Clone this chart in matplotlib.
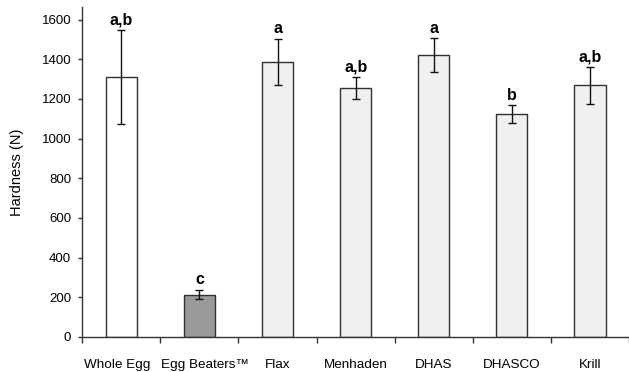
import matplotlib
matplotlib.use("Agg")
import matplotlib.pyplot as plt
import matplotlib.transforms as mtransforms
import numpy as np

# ----- data -----
categories = ["Whole Egg", "Egg Beaters\u2122", "Flax", "Menhaden", "DHAS", "DHASCO", "Krill"]
hardness = [1310, 213, 1385, 1255, 1420, 1123, 1268]
errors = [238, 23, 117, 54, 85, 44, 93]
letters = ["a,b", "c", "a", "a,b", "a", "b", "a,b"]
bar_colors = ["#ffffff", "#9a9a9c", "#f0f0f0", "#f0f0f0", "#f0f0f0", "#f0f0f0", "#f0f0f0"]

plt.rcParams["font.family"] = ["Liberation Sans", "DejaVu Sans"]

fig = plt.figure(figsize=(6.29, 3.72), dpi=100)
ax = fig.add_axes([0.1308, 0.0941, 0.8692, 0.887])

x = np.arange(len(categories))
ax.bar(x, hardness, width=0.4, color=bar_colors, edgecolor="#303030", linewidth=1.0, zorder=2)
ax.errorbar(x, hardness, yerr=errors, fmt="none", ecolor="#111111", elinewidth=1.0,
            capsize=3, capthick=1.0, zorder=3)

for xi, h, e, lab in zip(x, hardness, errors, letters):
    ax.annotate(lab, (xi, h + e), xytext=(0, 2), textcoords="offset points",
                ha="center", va="bottom", fontsize=11.5, fontweight="bold")

# axis settings
ax.set_xlim(-0.5, 6.44)
ax.set_ylim(0, 1663)
ax.set_yticks(np.arange(0, 1601, 200))
ax.tick_params(axis="y", direction="out", length=3, width=1, pad=5, labelsize=9.5, color="#333333")

ax.set_xticks(np.arange(-0.5, len(categories), 1.0))
ax.set_xticklabels([])
ax.set_xticks(x, minor=True)
ax.set_xticklabels(categories, minor=True)
ax.tick_params(axis="x", which="major", direction="out", length=4, width=1, color="#333333")
ax.tick_params(axis="x", which="minor", length=0, pad=16, labelsize=9.7)

# nudge the first two labels apart a little, as in the original
lbls = ax.get_xticklabels(minor=True)
for lbl, dx in zip(lbls[:2], [-4, 6]):
    lbl.set_transform(lbl.get_transform() + mtransforms.ScaledTranslation(dx / 100, 0, fig.dpi_scale_trans))

for side in ["top", "right"]:
    ax.spines[side].set_visible(False)
for side in ["left", "bottom"]:
    ax.spines[side].set_color("#333333")
    ax.spines[side].set_linewidth(1.0)

ax.set_ylabel("Hardness (N)", fontsize=10.5)
ax.yaxis.set_label_coords(-0.107, 0.5)

fig.savefig("out.png", dpi=100)
